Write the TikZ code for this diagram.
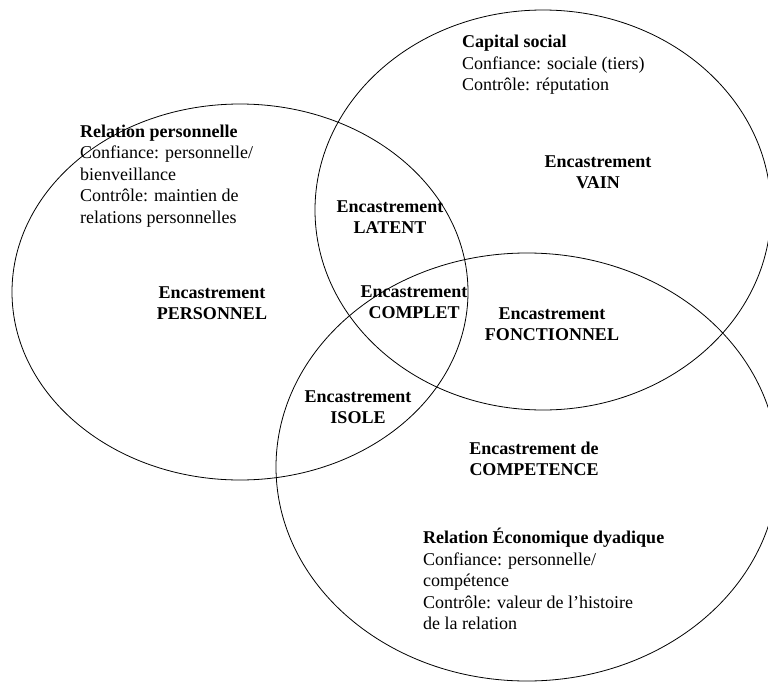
\documentclass[tikz,border=0pt]{standalone}
\usepackage{fontspec}
\setmainfont{Liberation Serif}
\usetikzlibrary{shapes.geometric}
\begin{document}
\begin{tikzpicture}[x=1pt,y=-1pt,
  circ/.style={draw=black, line width=0.8pt, ellipse, inner sep=0pt, outer sep=0pt},
  lab/.style={font=\fontsize{18}{21.5}\selectfont\bfseries, align=center, inner sep=0pt},
  blk/.style={font=\fontsize{18}{21.5}\selectfont, align=left, inner sep=0pt, anchor=west}]
\useasboundingbox (0,0) rectangle (768,682);
\node[circ, minimum width=456pt, minimum height=376pt] (perso) at (240,292) {};
\node[circ, minimum width=456pt, minimum height=400pt] (social) at (543,210) {};
\node[circ, minimum width=502pt, minimum height=428pt] (eco) at (527,467) {};

\node[blk] (rp) at (80,176) {\textbf{Relation personnelle}\\Confiance: personnelle/\\bienveillance\\Contr\^ole: maintien de\\relations personnelles};
\node[blk] (cs) at (462,65) {\textbf{Capital social}\\Confiance: sociale (tiers)\\Contr\^ole: r\'eputation};
\node[blk] (re) at (423,579) {\textbf{Relation \'Economique dyadique}\\Confiance: personnelle/\\comp\'etence\\Contr\^ole: valeur de l'histoire\\de la relation};

\node[lab] (vain) at (598,172) {Encastrement\\VAIN};
\node[lab] (latent) at (390,217) {Encastrement\\LATENT};
\node[lab] (personnel) at (212,303) {Encastrement\\PERSONNEL};
\node[lab] (complet) at (414,302) {Encastrement\\COMPLET};
\node[lab] (fonct) at (552,324) {Encastrement\\FONCTIONNEL};
\node[lab] (isole) at (358,407) {Encastrement\\ISOLE};
\node[lab] (compet) at (534,459) {Encastrement de\\COMPETENCE};
\end{tikzpicture}
\end{document}
